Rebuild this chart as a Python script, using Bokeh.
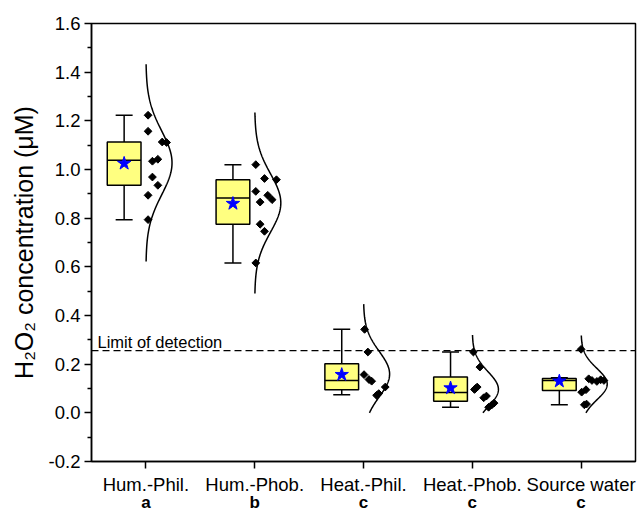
import numpy as np
from bokeh.plotting import figure
from bokeh.models import (FixedTicker, Span, Label, PrintfTickFormatter, Range1d,
                          ColumnDataSource, LinearAxis)
from bokeh.embed import file_html
from bokeh.resources import INLINE

# ---------------- data ----------------
categories = ["Hum.-Phil.", "Hum.-Phob.", "Heat.-Phil.", "Heat.-Phob.", "Source water"]
letters = ["a", "b", "c", "c", "c"]

q1 = [0.935, 0.775, 0.095, 0.048, 0.092]
median = [1.038, 0.883, 0.133, 0.084, 0.133]
q3 = [1.113, 0.958, 0.202, 0.147, 0.141]
whisker_low = [0.794, 0.616, 0.074, 0.023, 0.033]
whisker_high = [1.223, 1.020, 0.343, 0.250, 0.144]
means = [1.025, 0.860, 0.157, 0.102, 0.130]

hum_phil = [1.223, 1.157, 1.113, 1.111, 1.042, 1.034, 0.969, 0.935, 0.894, 0.794]
hum_phob = [1.020, 0.963, 0.958, 0.910, 0.894, 0.876, 0.866, 0.775, 0.746, 0.616]
heat_phil = [0.343, 0.250, 0.157, 0.137, 0.130, 0.106, 0.079, 0.072]
heat_phob = [0.250, 0.188, 0.106, 0.100, 0.096, 0.069, 0.062, 0.040, 0.033, 0.023]
source_water = [0.261, 0.140, 0.136, 0.133, 0.133, 0.129, 0.095, 0.085, 0.036, 0.033]

# horizontal scatter offsets of the points (category units)
hum_phil_off = [0.02, 0.02, 0.15, 0.19, 0.11, 0.06, 0.06, 0.11, 0.02, 0.02]
hum_phob_off = [0.01, 0.09, 0.20, 0.01, 0.12, 0.16, 0.05, 0.05, 0.09, 0.01]
heat_phil_off = [0.01, 0.04, 0.005, 0.05, 0.075, 0.20, 0.14, 0.12]
heat_phob_off = [0.01, 0.07, 0.045, 0.03, 0.02, 0.13, 0.105, 0.20, 0.18, 0.15]
source_water_off = [0.0, 0.07, 0.18, 0.10, 0.21, 0.145, 0.045, 0.005, 0.05, 0.03]

detection_limit = 0.256

y_ticks = [-0.2, 0.0, 0.2, 0.4, 0.6, 0.8, 1.0, 1.2, 1.4, 1.6]
y_minor = [-0.1, 0.1, 0.3, 0.5, 0.7, 0.9, 1.1, 1.3, 1.5]

groups = [hum_phil, hum_phob, heat_phil, heat_phob, source_water]
offsets = [hum_phil_off, hum_phob_off, heat_phil_off, heat_phob_off, source_water_off]

# ---------------- figure ----------------
FONT = "Liberation Sans"
p = figure(width=637, height=514, x_range=Range1d(0.5, 5.5), y_range=Range1d(-0.2, 1.6),
           output_backend="svg", toolbar_location=None,
           min_border_left=91, min_border_right=2, min_border_top=23, min_border_bottom=53)
p.xgrid.visible = False
p.ygrid.visible = False
p.outline_line_color = "black"
p.outline_line_width = 1.5
p.outline_line_alpha = 1.0
p.background_fill_color = "white"
p.border_fill_color = "white"

pos = np.arange(1, len(categories) + 1)

# axes
p.xaxis.ticker = FixedTicker(ticks=list(pos))
p.xaxis.major_label_overrides = {int(i): c for i, c in zip(pos, categories)}
p.yaxis.ticker = FixedTicker(ticks=y_ticks, minor_ticks=y_minor)
p.yaxis.formatter = PrintfTickFormatter(format="%.1f")
for ax in (p.xaxis[0], p.yaxis[0]):
    ax.axis_line_width = 1.5
    ax.axis_line_color = "black"
    ax.major_tick_line_width = 1.5
    ax.major_tick_line_color = "black"
    ax.major_tick_out = 7
    ax.major_tick_in = 0
    ax.minor_tick_line_width = 1.5
    ax.minor_tick_line_color = "black"
    ax.minor_tick_out = 4
    ax.minor_tick_in = 0
    ax.major_label_text_font = FONT
    ax.major_label_text_font_size = "18.5px"
    ax.major_label_text_color = "black"
p.xaxis.minor_tick_out = 0
p.xaxis.major_label_standoff = 5
p.yaxis.major_label_standoff = 4
p.yaxis.axis_label = "H\u2082O\u2082 concentration (\u03bcM)"
p.yaxis.axis_label_text_font = FONT
p.yaxis.axis_label_text_font_size = "25px"
p.yaxis.axis_label_text_font_style = "normal"
p.yaxis.axis_label_text_color = "black"
p.yaxis.axis_label_standoff = 8

# significance letters as a second (line-less) axis below the category labels
letter_axis = LinearAxis(ticker=FixedTicker(ticks=list(pos)),
                         major_label_overrides={int(i): l for i, l in zip(pos, letters)},
                         axis_line_color=None, major_tick_line_color=None,
                         minor_tick_line_color=None, major_tick_out=0, major_tick_in=0,
                         minor_tick_out=0, minor_tick_in=0, major_label_standoff=-5,
                         major_label_text_font=FONT, major_label_text_font_size="17px",
                         major_label_text_font_style="bold", major_label_text_color="black")
p.add_layout(letter_axis, "below")

# detection limit
p.add_layout(Span(location=detection_limit, dimension="width", line_color="black",
                  line_width=1.3, line_dash="7 4"))
p.add_layout(Label(x=0.5, y=detection_limit, x_offset=6, y_offset=0, text="Limit of detection",
                   text_font=FONT, text_font_size="16.5px", text_color="black",
                   text_baseline="bottom"))

# boxes
BOX_SHIFT = -0.2
BOX_HALF = 0.155
CAP_HALF = 0.078
box_src = ColumnDataSource(dict(
    x=pos + BOX_SHIFT, left=pos + BOX_SHIFT - BOX_HALF, right=pos + BOX_SHIFT + BOX_HALF,
    q1=q1, q3=q3, med=median, lo=whisker_low, hi=whisker_high, mean=means,
    capl=pos + BOX_SHIFT - CAP_HALF, capr=pos + BOX_SHIFT + CAP_HALF,
))
p.segment(x0="x", y0="q3", x1="x", y1="hi", source=box_src, line_color="black", line_width=1.5)
p.segment(x0="x", y0="lo", x1="x", y1="q1", source=box_src, line_color="black", line_width=1.5)
p.segment(x0="capl", y0="hi", x1="capr", y1="hi", source=box_src, line_color="black", line_width=1.5)
p.segment(x0="capl", y0="lo", x1="capr", y1="lo", source=box_src, line_color="black", line_width=1.5)
p.quad(left="left", right="right", bottom="q1", top="q3", source=box_src,
       fill_color="#FFFF80", line_color="black", line_width=1.5)
p.segment(x0="left", y0="med", x1="right", y1="med", source=box_src, line_color="black", line_width=1.5)
p.scatter(x="x", y="mean", source=box_src, marker="star", size=14,
          fill_color="#0000FF", line_color="#0000FF")

# half normal curves
xs, ys = [], []
for i, vals in enumerate(groups):
    v = np.array(vals)
    m, s = v.mean(), v.std(ddof=1)
    yy = np.linspace(max(0.0, m - 3.1 * s), m + 3.1 * s, 200)
    xx = pos[i] + 0.24 * np.exp(-0.5 * ((yy - m) / s) ** 2)
    xs.append(list(xx))
    ys.append(list(yy))
p.multi_line(xs=xs, ys=ys, line_color="black", line_width=1.5)

# points
px, py = [], []
for i, (vals, offs) in enumerate(zip(groups, offsets)):
    for v, o in zip(vals, offs):
        px.append(pos[i] + o)
        py.append(v)
p.scatter(px, py, marker="square", angle=np.pi / 4, size=5.5,
          fill_color="black", line_color="black")

open("out.html", "w").write(file_html(p, INLINE))
